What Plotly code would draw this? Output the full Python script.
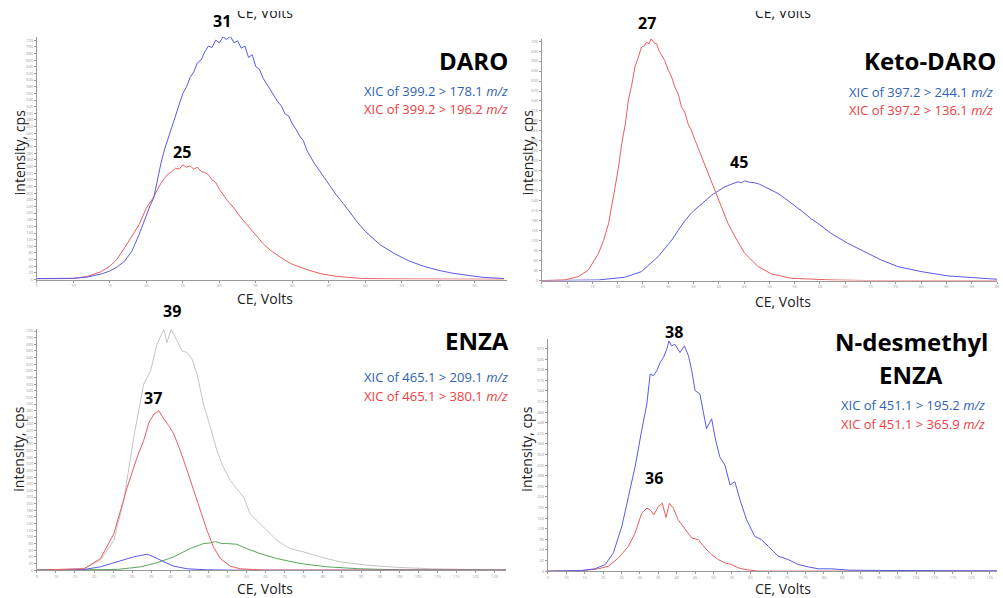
import plotly.graph_objects as go

W, H = 1003, 598

# ---------------- DATA (CE in volts, intensity in arbitrary cps units) ----------------
# DARO
daro_blue_ce = [5, 8, 10, 12, 14, 15, 16, 17, 18, 19, 20, 20.5, 21, 21.5, 22, 22.5, 23, 23.5, 24, 24.5,
                25, 25.5, 26, 26.5, 27, 27.5, 28, 28.5, 29, 29.5, 30, 30.5, 31, 31.5, 32, 32.5, 33, 33.5,
                34, 34.5, 35, 35.5, 36, 36.5, 37, 37.5, 38, 38.5, 39, 39.5, 40, 40.5, 41, 41.5, 42, 43,
                44, 45, 46, 47, 48, 49, 50, 52, 54, 56, 58, 60, 62, 64, 66, 69]
daro_blue_int = [3, 3, 4, 8, 18, 26, 38, 55, 85, 135, 195, 222, 245, 300, 350, 392, 425, 455, 495, 522,
                 560, 580, 608, 625, 652, 660, 685, 702, 698, 720, 712, 730, 722, 732, 712, 718, 696, 702,
                 668, 676, 640, 632, 605, 588, 570, 552, 535, 522, 498, 492, 468, 452, 432, 418, 388, 350,
                 318, 285, 255, 228, 198, 170, 145, 105, 78, 56, 40, 28, 19, 12, 7, 3]
daro_red_ce = [5, 8, 10, 12, 13.7, 15, 16, 17, 18, 19, 20, 21, 21.5, 22, 22.5, 23, 23.5, 24, 24.5, 25,
               25.5, 26, 26.5, 27, 27.5, 28, 28.5, 29, 29.5, 30, 31, 32, 33, 34, 35, 36, 37, 38, 39, 40,
               42, 44, 46, 48, 50, 55, 60, 65, 69]
daro_red_int = [2, 2, 3, 10, 23, 40, 62, 95, 130, 165, 215, 248, 270, 290, 305, 318, 325, 335, 332, 345,
                338, 342, 332, 338, 325, 322, 315, 300, 292, 272, 240, 215, 185, 160, 132, 108, 88, 72, 58, 46,
                30, 17, 10, 6, 3, 2, 1, 1, 1]

# Keto-DARO
keto_red_ce = [5, 9.6, 12.2, 14.2, 16.2, 17.2, 18.2, 19, 19.5, 20.2, 20.8, 21.5, 22.1, 22.8, 23.4, 24, 24.7,
               25.2, 25.7, 26.2, 26.6, 27.2, 27.7, 28.2, 28.7, 29.3, 30, 30.6, 31.3, 32, 32.6, 33.3, 33.9,
               34.6, 35.3, 36, 36.6, 37.3, 37.9, 38.6, 39.2, 40.5, 41.8, 43.2, 45.1, 47.8, 50.4, 54.3,
               62.2, 70, 95]
keto_red_int = [0, 2, 12, 32, 82, 120, 172, 235, 282, 345, 412, 470, 542, 590, 642, 668, 702, 705, 717, 712,
                727, 715, 712, 690, 677, 662, 632, 615, 582, 560, 522, 505, 472, 450, 422, 395, 372, 345,
                322, 298, 272, 222, 172, 132, 82, 42, 20, 7, 2, 0, 0]
keto_blue_ce = [5, 16.2, 21.4, 24.7, 28, 30.7, 32, 33.3, 34.6, 36, 37.3, 38.6, 39.9, 41.2, 42.5, 43.8, 44.5,
                45.1, 46, 47.1, 48, 49.1, 50.4, 51.7, 53, 54.3, 55.6, 57, 58.3, 59.6, 62.2, 65.5, 68.8,
                72.1, 75.4, 80, 85.3, 91.8, 95]
keto_blue_int = [0, 2, 10, 27, 72, 122, 152, 180, 204, 222, 240, 257, 270, 282, 290, 297, 294, 300, 296, 294,
                 290, 282, 272, 262, 248, 232, 218, 202, 185, 172, 142, 112, 87, 62, 42, 27, 14, 7, 4]

# ENZA
enza_grey_ce = [5, 17.4, 21.7, 25.2, 27.8, 30.4, 33, 34.8, 36.5, 38.3, 39.1, 40.2, 41.8, 43.1, 44.4, 45.7,
                47, 48.7, 50.5, 52.2, 53.9, 55.7, 57.4, 59.2, 60.9, 62.7, 65.3, 67.9, 71.4, 74.9, 79.2,
                84.4, 91.4, 100, 108.8, 121.9, 128]
enza_grey_int = [0, 5, 30, 90, 210, 400, 560, 600, 680, 725, 685, 725, 690, 660, 655, 635, 590, 500, 430,
                 360, 310, 270, 245, 220, 170, 150, 120, 90, 65, 55, 40, 25, 15, 8, 4, 1, 0]
enza_red_ce = [5, 17.4, 21.7, 25.2, 28.7, 31.3, 33, 34.4, 35.7, 37, 38.3, 39.6, 40.9, 42.6, 44.4, 46.1,
               47.9, 49.6, 51.3, 53.1, 55.7, 58.3, 65, 128]
enza_red_int = [0, 4, 35, 110, 250, 340, 390, 445, 470, 480, 455, 435, 410, 360, 300, 240, 180, 120, 70,
                35, 12, 4, 0, 0]
enza_blue_ce = [5, 17.4, 21.7, 26.1, 30.4, 33.9, 35.7, 38.3, 40.9, 44.4, 49.6, 56.5, 128]
enza_blue_int = [0, 2, 10, 25, 40, 48, 40, 25, 12, 4, 1, 0, 0]
enza_green_ce = [5, 26.1, 32.2, 36.5, 40.9, 45.2, 48.7, 50.5, 51.8, 53.5, 54.8, 57.4, 60, 63.5, 67.9, 74, 81,
                 89.7, 100, 128]
enza_green_int = [0, 2, 10, 22, 40, 65, 80, 82, 86, 80, 80, 78, 65, 50, 35, 20, 10, 4, 1, 0]

# N-desmethyl ENZA
ndm_blue_ce = [5, 14.2, 17.8, 20.6, 22.8, 25.1, 26.9, 28.7, 30.5, 31.9, 32.8, 33.7, 34.6, 35.5, 36.4, 37.3,
               37.9, 38.6, 39.5, 40.9, 42.1, 43.2, 44.1, 45, 46.3, 48.1, 49.5, 50.4, 51.7, 53.1, 54.5,
               55.8, 57.2, 59, 61.2, 63, 64.9, 67.6, 70.3, 73, 75.7, 78.4, 82, 86.6, 95, 110, 127]
ndm_blue_int = [0, 2, 7, 20, 55, 135, 225, 315, 425, 505, 595, 590, 605, 630, 645, 670, 695, 680, 685, 660,
                680, 650, 605, 545, 535, 430, 460, 405, 345, 320, 260, 270, 215, 155, 105, 95, 75, 45, 35,
                20, 13, 7, 7, 3, 2, 1, 1]
ndm_red_ce = [5, 14.2, 18.7, 21.5, 24.2, 26.9, 28.7, 30.5, 31.9, 32.8, 33.8, 35, 36.1, 37.1, 38, 39.1, 40.4,
              42.3, 44.1, 45.9, 47.7, 49.5, 51.3, 53.1, 54.9, 56.7, 58.5, 62.1, 127]
ndm_red_int = [0, 1, 7, 15, 40, 75, 115, 175, 190, 185, 170, 195, 205, 162, 205, 190, 155, 125, 100, 95,
               70, 50, 35, 25, 20, 10, 5, 0, 0]

# ---------------- STYLE ----------------
BLUE = "#5a5ae8"
RED = "#ea5d5d"
GREEN = "#5aa65a"
GREY = "#c4c4c4"
TXT_BLUE = "#2f62b3"
TXT_RED = "#ee4040"
FONT = "Open Sans"


def px(x):
    return x / W


def py(y):
    return 1 - y / H


fig = go.Figure()

panels = [
    # (axis suffix, x-domain px, y-domain px (top,bottom), x range, y range, y dtick)
    ("", (36, 508), (36, 280), [5, 69.4], [0, 730], 20),
    ("2", (543, 1000), (38, 281), [5, 95], [0, 727], 30),
    ("3", (36, 507), (330, 572), [5, 128], [0, 725], 20),
    ("4", (549, 1000), (340, 573), [5, 127], [0, 700], 32),
]

series = [
    ("", daro_red_ce, daro_red_int, RED),
    ("", daro_blue_ce, daro_blue_int, BLUE),
    ("2", keto_blue_ce, keto_blue_int, BLUE),
    ("2", keto_red_ce, keto_red_int, RED),
    ("3", enza_grey_ce, enza_grey_int, GREY),
    ("3", enza_green_ce, enza_green_int, GREEN),
    ("3", enza_blue_ce, enza_blue_int, BLUE),
    ("3", enza_red_ce, enza_red_int, RED),
    ("4", ndm_red_ce, ndm_red_int, RED),
    ("4", ndm_blue_ce, ndm_blue_int, BLUE),
]

for suf, xs, ys, col in series:
    fig.add_trace(go.Scatter(x=xs, y=ys, mode="lines", line=dict(color=col, width=1),
                             xaxis="x" + suf, yaxis="y" + suf, showlegend=False, hoverinfo="skip"))

layout_axes = {}
for suf, (x0, x1), (yt, yb), xr, yr, ydt in panels:
    layout_axes["xaxis" + suf] = dict(
        domain=[px(x0), px(x1)], range=xr, anchor="y" + suf,
        showline=True, linecolor="#9a9a9a", linewidth=1, ticks="outside", ticklen=2,
        tickcolor="#9a9a9a", tick0=5, dtick=5, tickfont=dict(size=4, color="#999999", family=FONT),
        showgrid=False, zeroline=False)
    layout_axes["yaxis" + suf] = dict(
        domain=[py(yb), py(yt)], range=yr, anchor="x" + suf,
        showline=True, linecolor="#9a9a9a", linewidth=1, ticks="outside", ticklen=2,
        tickcolor="#9a9a9a", dtick=ydt, tickfont=dict(size=4, color="#999999", family=FONT),
        showgrid=False, zeroline=False)

annotations = []


def add_text(text, x, y, size, color="black", xanchor="center", yanchor="middle", angle=0):
    annotations.append(dict(text=text, x=px(x), y=py(y), xref="paper", yref="paper",
                            xanchor=xanchor, yanchor=yanchor, showarrow=False, textangle=angle,
                            font=dict(family=FONT, size=size, color=color)))


# axis titles (the two at the very top are partly hidden, as in the source figure)
for cx, cy in [(265, 12), (785, 12), (265, 299), (785, 302), (265, 590), (785, 590)]:
    add_text("CE, Volts", cx, cy, 14, "#222222")
for cx, cy in [(18, 152), (528, 152), (18, 450), (528, 450)]:
    add_text("intensity, cps", cx, cy, 14, "#222222", angle=-90)

# white masks hiding the upper part of the two top "CE, Volts" labels
for cx in (265, 785):
    annotations.append(dict(text="", x=px(cx), y=1, xref="paper", yref="paper",
                            xanchor="center", yanchor="top", showarrow=False,
                            width=90, height=10, bgcolor="white", borderpad=0, borderwidth=0))

# peak labels
for t, cx, cy in [("31", 222, 20), ("25", 182, 152), ("27", 649, 22), ("45", 741, 162),
                  ("39", 172, 312), ("37", 153, 399), ("38", 676, 333), ("36", 656, 479)]:
    add_text("<b>%s</b>" % t, cx, cy, 16)

# compound names
add_text("<b>DARO</b>", 511, 60, 24, xanchor="right")
add_text("<b>Keto-DARO</b>", 1001, 60, 24, xanchor="right")
add_text("<b>ENZA</b>", 512, 341, 24, xanchor="right")
add_text("<b>N-desmethyl</b>", 914, 342, 24)
add_text("<b>ENZA</b>", 914, 375, 24)

# transitions
trans = [
    ("XIC of 399.2 > 178.1 <i>m/z</i>", 511, 90, TXT_BLUE),
    ("XIC of 399.2 > 196.2 <i>m/z</i>", 511, 109, TXT_RED),
    ("XIC of 397.2 > 244.1 <i>m/z</i>", 998, 91, TXT_BLUE),
    ("XIC of 397.2 > 136.1 <i>m/z</i>", 998, 110, TXT_RED),
    ("XIC of 465.1 > 209.1 <i>m/z</i>", 511, 378, TXT_BLUE),
    ("XIC of 465.1 > 380.1 <i>m/z</i>", 511, 397, TXT_RED),
    ("XIC of 451.1 > 195.2 <i>m/z</i>", 990, 406, TXT_BLUE),
    ("XIC of 451.1 > 365.9 <i>m/z</i>", 990, 425, TXT_RED),
]
for t, x, y, c in trans:
    add_text(t, x, y, 13, c, xanchor="right")

fig.update_layout(
    width=W, height=H, margin=dict(l=0, r=0, t=0, b=0),
    paper_bgcolor="white", plot_bgcolor="white",
    annotations=annotations, showlegend=False,
    **layout_axes,
)

fig.write_html("out.html", config={"displayModeBar": False},
               post_script="document.body.style.margin='0';document.body.style.overflow='hidden';")
